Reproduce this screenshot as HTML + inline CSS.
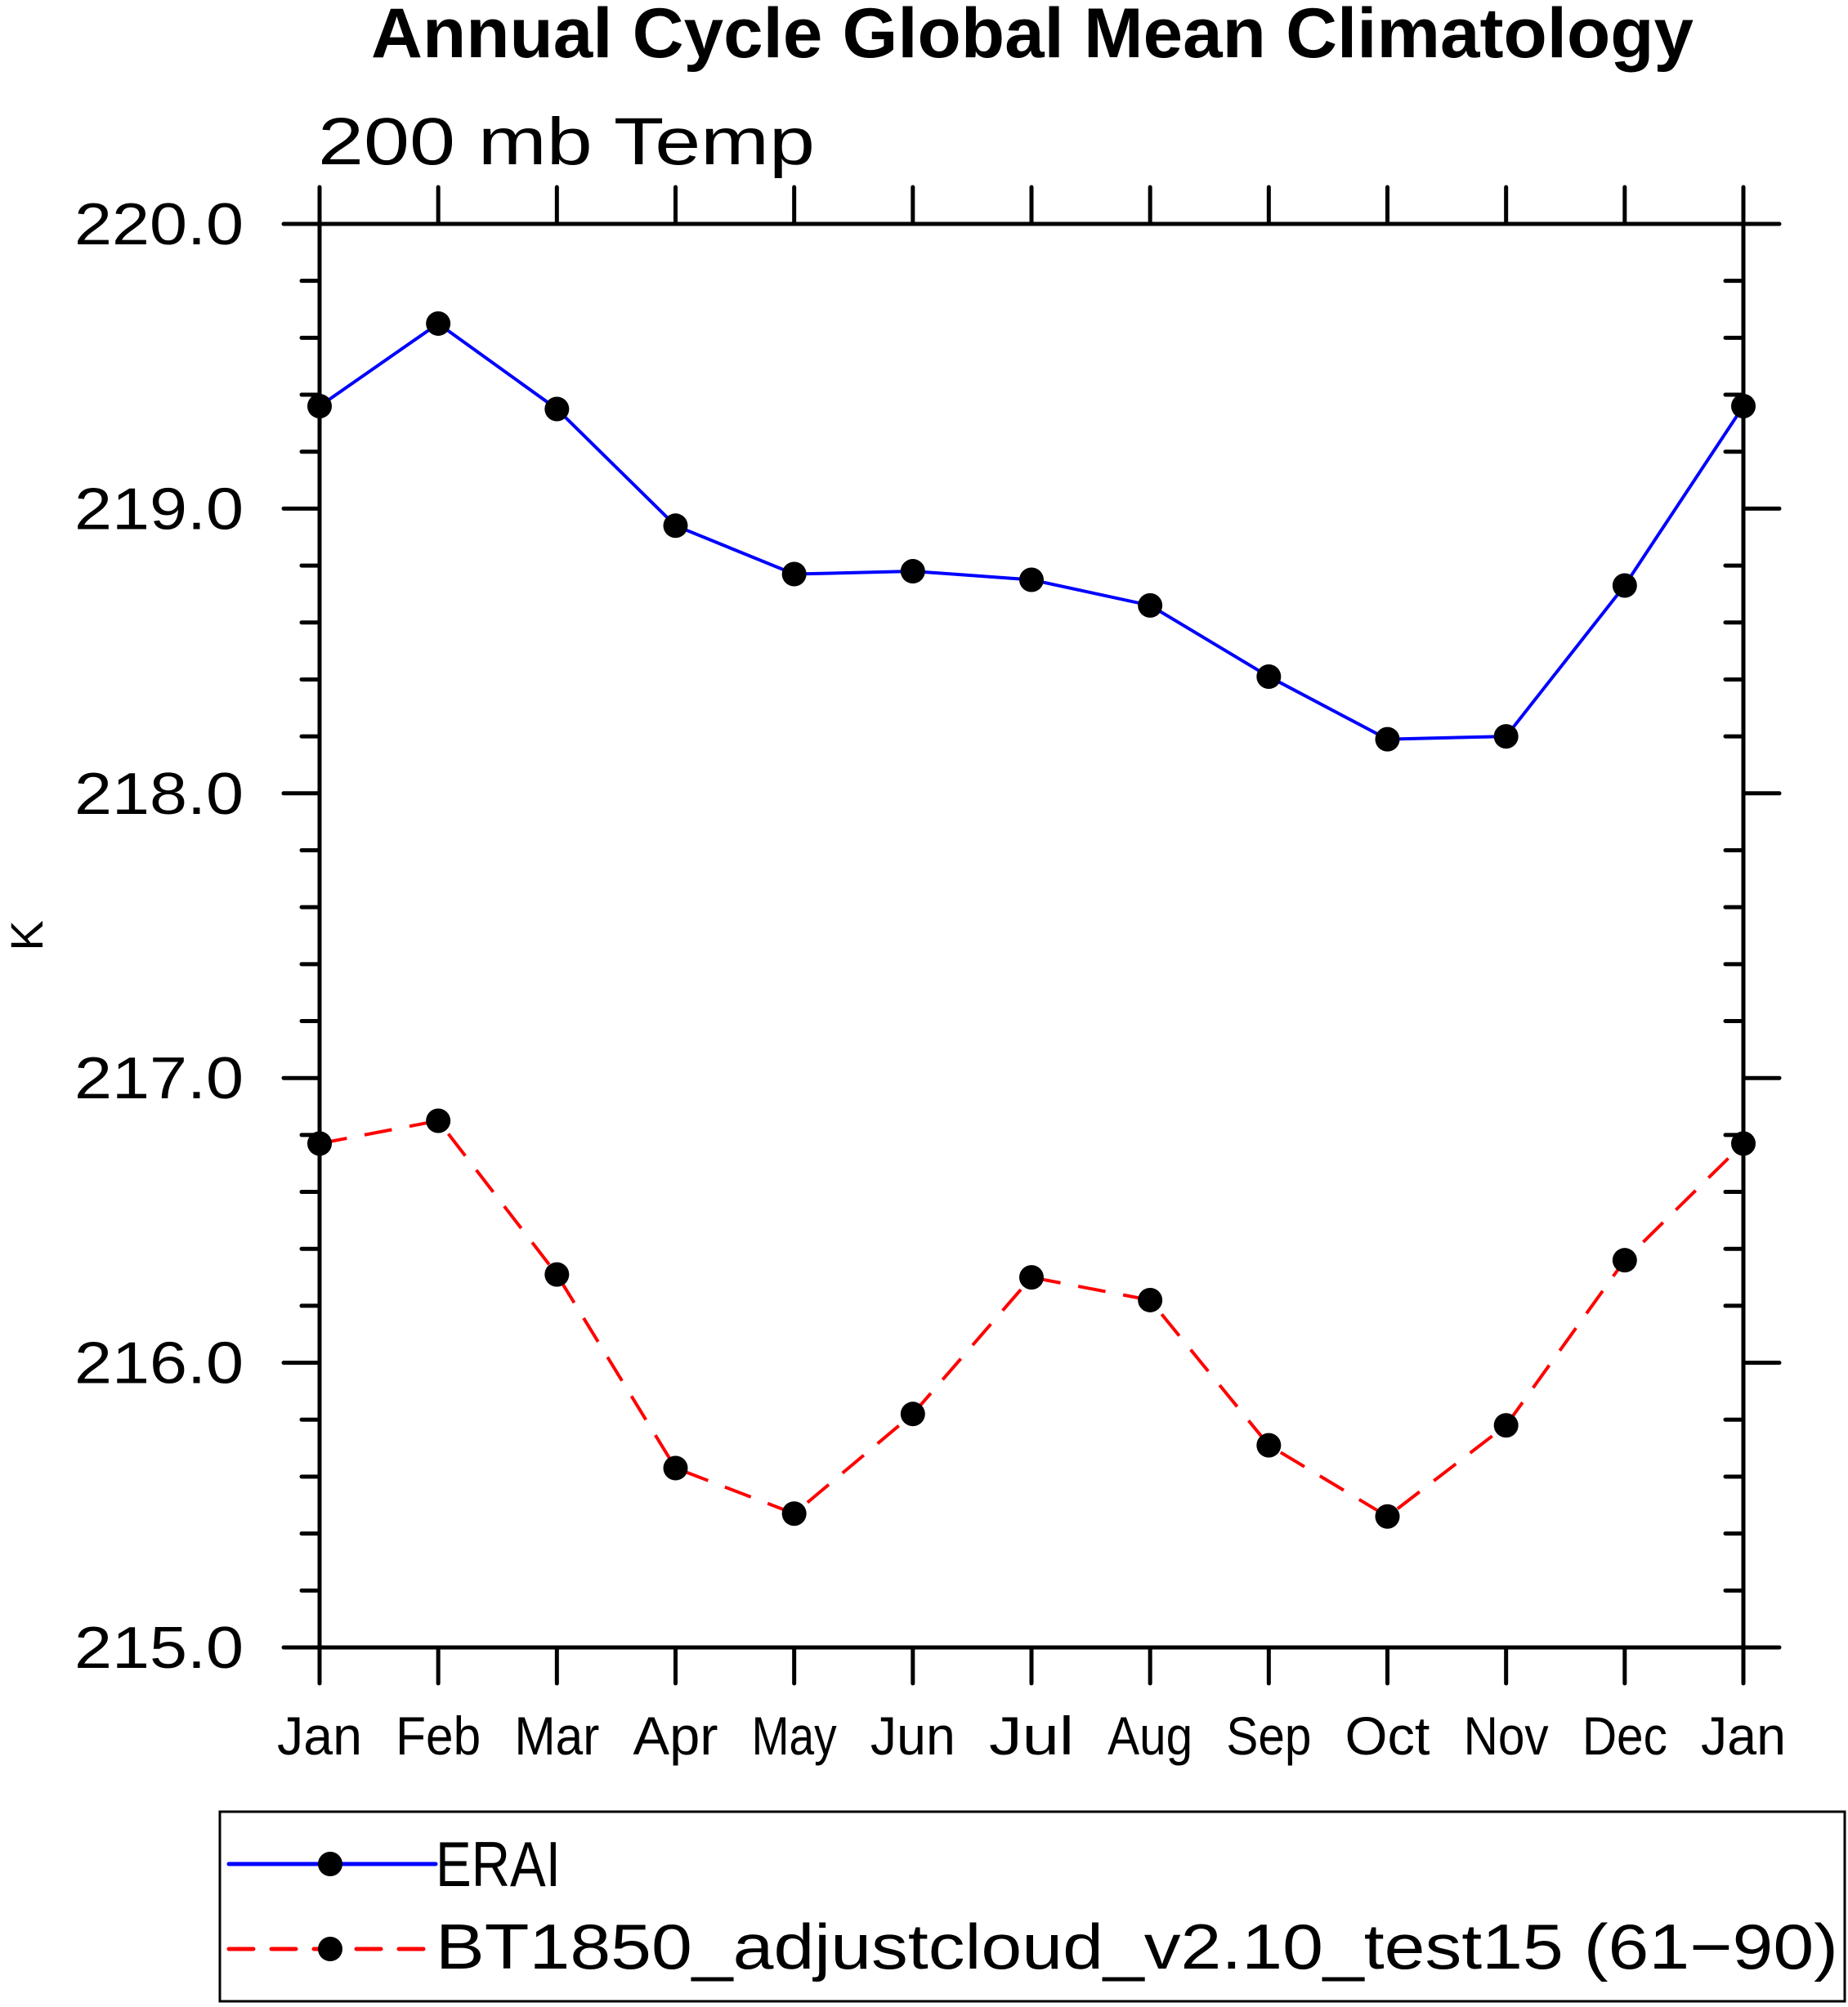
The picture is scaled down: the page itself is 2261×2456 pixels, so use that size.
<!DOCTYPE html>
<html><head><meta charset="utf-8"><style>
html,body{margin:0;padding:0;background:#fff;}
svg{display:block;}
text{font-family:"Liberation Sans",sans-serif;}
</style></head><body>
<svg id="chart" width="2261" height="2456" viewBox="0 0 2261 2456" xmlns="http://www.w3.org/2000/svg">
<text x="1263" y="70" text-anchor="middle" font-size="86" font-weight="bold" textLength="1618" lengthAdjust="spacingAndGlyphs">Annual Cycle Global Mean Climatology</text>
<text x="389" y="201" font-size="82" textLength="608" lengthAdjust="spacingAndGlyphs">200 mb Temp</text>
<text transform="translate(52,1145) rotate(-90)" text-anchor="middle" font-size="56">K</text>
<g id="axes"></g>
<g id="series"></g>
<g id="legend"></g>
</svg>
<script>
const months = ["Jan","Feb","Mar","Apr","May","Jun","Jul","Aug","Sep","Oct","Nov","Dec","Jan"];
const eraiValues = [219.36,219.65,219.35,218.94,218.77,218.78,218.75,218.66,218.41,218.19,218.20,218.73,219.36];
const modelValues = [216.77,216.85,216.31,215.63,215.47,215.82,216.30,216.22,215.71,215.46,215.78,216.36,216.77];
const yTickValues = [215,216,217,218,219,220];
const yTickLabels = ["215.0","216.0","217.0","218.0","219.0","220.0"];
const seriesNames = ["ERAI","BT1850_adjustcloud_v2.10_test15 (61\u221290)"];

const NS="http://www.w3.org/2000/svg";
const L=391,R=2133,T=274,B=2016,YMIN=215,YMAX=220;
function xs(i){return L+(R-L)*i/(months.length-1);}
function ys(v){return B-(v-YMIN)/(YMAX-YMIN)*(B-T);}
function mk(tag,attrs,parent){const e=document.createElementNS(NS,tag);for(const k in attrs)e.setAttribute(k,attrs[k]);parent.appendChild(e);return e;}
const axes=document.getElementById('axes');
function line(x1,y1,x2,y2,p){return mk('line',{x1,y1,x2,y2,stroke:'#000','stroke-width':5,'stroke-linecap':'round'},p);}
let f=mk('rect',{x:L,y:T,width:R-L,height:B-T,fill:'none',stroke:'#000','stroke-width':5},axes);


months.forEach((m,i)=>{
  const x=xs(i);
  line(x,B,x,B+44,axes);
  line(x,T,x,T-45,axes);
  const t=mk('text',{x:x,y:2147,'text-anchor':'middle','font-size':66,textLength:104,lengthAdjust:'spacingAndGlyphs'},axes);
  t.textContent=m;
  
  
});
for(let v=YMIN;v<=YMAX+1e-6;v+=0.2){
  const y=ys(v);
  const major=Math.abs(v-Math.round(v))<1e-6;
  if(major){line(L-44,y,L,y,axes);line(R,y,R+44,y,axes);}
  else{line(L-22,y,L,y,axes);line(R-22,y,R,y,axes);}
}
yTickValues.forEach((v,i)=>{
  const t=mk('text',{x:298,y:ys(v)+25,'text-anchor':'end','font-size':72,textLength:207,lengthAdjust:'spacingAndGlyphs'},axes);
  t.textContent=yTickLabels[i];
  
  
});
const sg=document.getElementById('series');
function drawSeries(vals,color,dash,name){
  const g=mk('g',{},sg);
  
  
  const pts=vals.map((v,i)=>xs(i)+','+ys(v)).join(' ');
  const p=mk('polyline',{points:pts,fill:'none',stroke:color,'stroke-width':4,'stroke-dasharray':dash||'none'},g);
  
  
  vals.forEach((v,i)=>{
    const c=mk('circle',{cx:xs(i),cy:ys(v),r:15,fill:'#000'},g);
    
    
  });
}
drawSeries(eraiValues,'#0000ff',null,'erai-series');
drawSeries(modelValues,'#ff0000','34 22','model-series');
const lg=document.getElementById('legend');
const box=mk('rect',{x:269,y:2217,width:1988,height:232,fill:'none',stroke:'#000','stroke-width':3},lg);


[[seriesNames[0],'#0000ff',null,2281,2308,'legend-entry-erai',153],[seriesNames[1],'#ff0000','30 22',2385,2409,'legend-entry-model',1716]].forEach(e=>{
  const g=mk('g',{},lg);
  
  
  mk('line',{x1:280,y1:e[3],x2:533,y2:e[3],stroke:e[1],'stroke-width':5,'stroke-linecap':'round','stroke-dasharray':e[2]||'none'},g);
  mk('circle',{cx:404,cy:e[3],r:15,fill:'#000'},g);
  const t=mk('text',{x:533,y:e[4],'font-size':78,textLength:e[6],lengthAdjust:'spacingAndGlyphs'},g);
  t.textContent=e[0];
});
</script>
</body></html>
